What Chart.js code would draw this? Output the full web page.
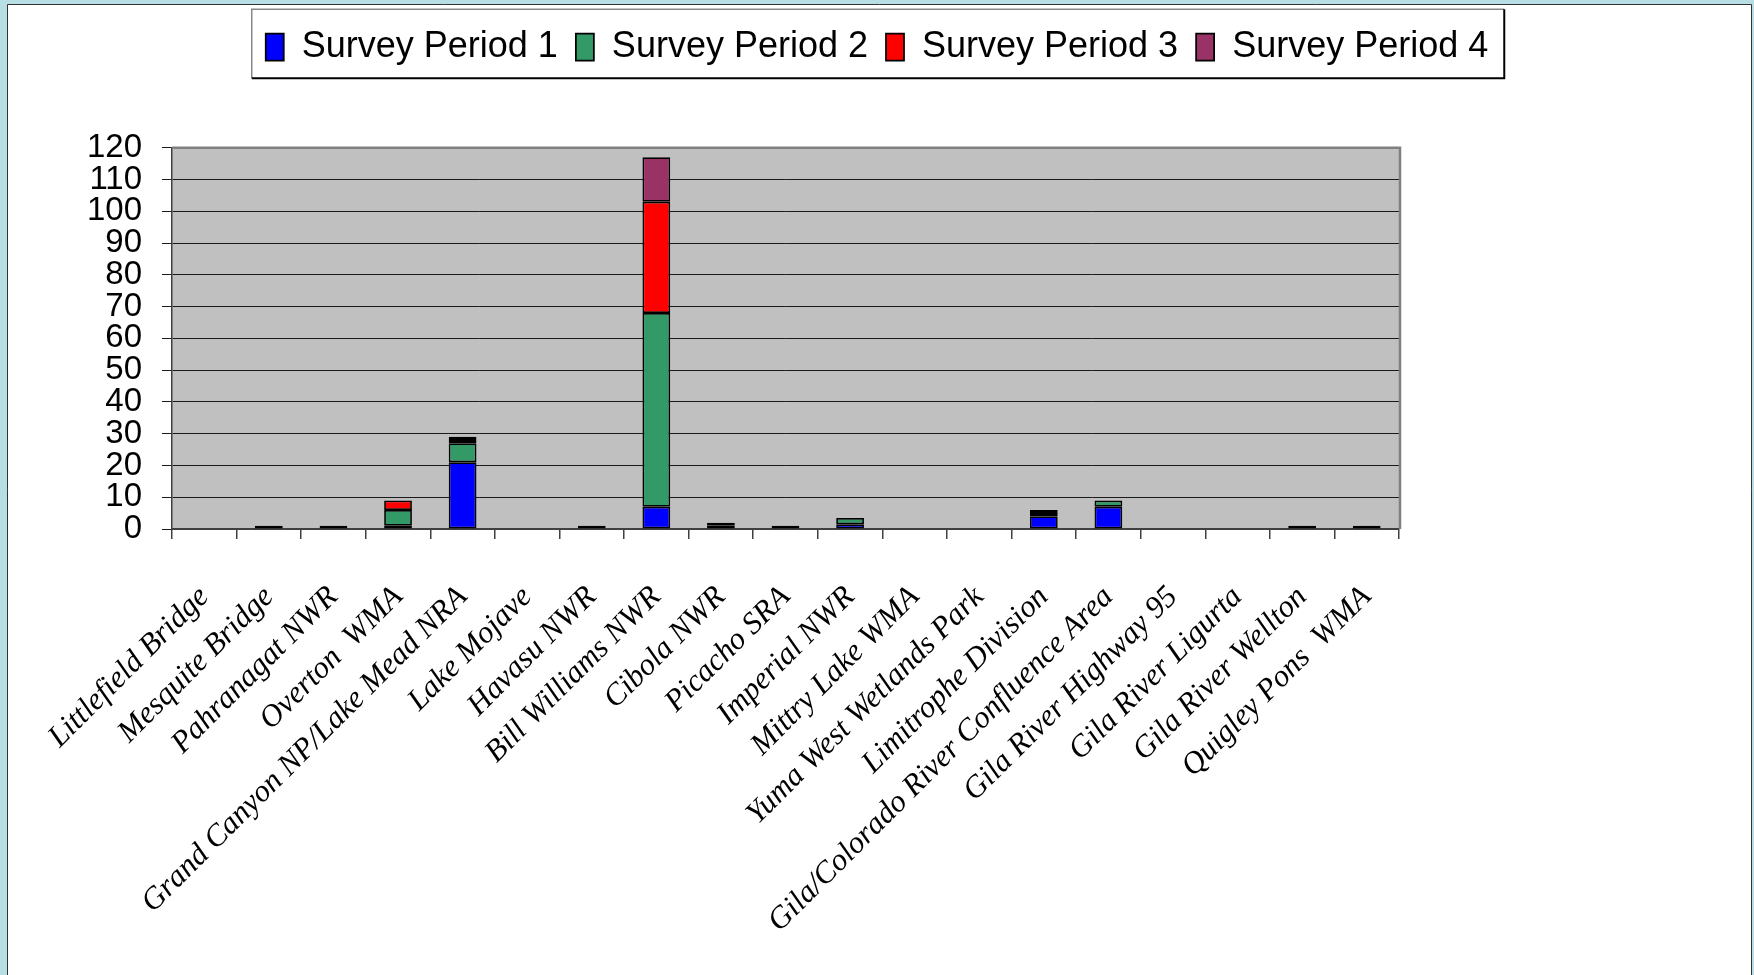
<!DOCTYPE html>
<html><head><meta charset="utf-8">
<script src="https://cdn.jsdelivr.net/npm/chart.js@4"></script>
<style>html,body{margin:0;padding:0;background:#fff;}canvas{display:block;}</style>
</head><body>
<canvas id="c" width="1754" height="975"></canvas>
<script>
const categories = ['Littlefield Bridge','Mesquite Bridge','Pahranagat NWR','Overton  WMA','Grand Canyon NP/Lake Mead NRA','Lake Mojave','Havasu NWR','Bill Williams NWR','Cibola NWR','Picacho SRA','Imperial NWR','Mittry Lake WMA','Yuma West Wetlands Park','Limitrophe Division','Gila/Colorado River Confluence Area','Gila River Highway 95','Gila River Ligurta','Gila River Wellton','Quigley Pons  WMA'];
const seriesNames = ['Survey Period 1','Survey Period 2','Survey Period 3','Survey Period 4'];
const period1 = [0,1,1,1,21,0,1,7,1,1,1.5,0,0,4,7,0,0,1,1];
const period2 = [0,0,0,5,6,0,0,61,1,0,2,0,0,1,2,0,0,0,0];
const period3 = [0,0,0,3,1,0,0,35,0,0,0,0,0,1,0,0,0,0,0];
const period4 = [0,0,0,0,1,0,0,14,0,0,0,0,0,0,0,0,0,0,0];
const seriesColors = ['#0000FF','#339966','#FF0000','#993366'];
const yMin = 0, yMax = 120, yStep = 10;

const decor = {
  id: 'decor',
  beforeDraw(chart) {
    const ctx = chart.ctx, W = chart.width, H = chart.height;
    ctx.save();
    ctx.fillStyle = '#B7DEE3';
    ctx.fillRect(0, 0, W, H);
    ctx.fillStyle = '#FFFFFF';
    ctx.fillRect(8, 5, 1743, H - 5);
    ctx.strokeStyle = '#333';
    ctx.lineWidth = 1;
    ctx.beginPath();
    ctx.moveTo(7.5, H); ctx.lineTo(7.5, 4.5); ctx.lineTo(1751.5, 4.5); ctx.lineTo(1751.5, H);
    ctx.stroke();
    const a = chart.chartArea;
    ctx.fillStyle = '#C0C0C0';
    ctx.fillRect(a.left, a.top, a.right - a.left, a.bottom - a.top);
    ctx.restore();
  },
  afterDraw(chart) {
    const ctx = chart.ctx, a = chart.chartArea;
    ctx.save();
    ctx.strokeStyle = '#808080';
    ctx.lineWidth = 2.5;
    ctx.beginPath();
    ctx.moveTo(a.left, a.top); ctx.lineTo(a.right + 1, a.top); ctx.lineTo(a.right + 1, a.bottom);
    ctx.stroke();
    const hb = chart.legend && chart.legend.legendHitBoxes;
    if (hb && hb.length) {
      const l = hb[0].left - 14;
      const r = hb[hb.length - 1].left + hb[hb.length - 1].width + 16;
      const t = hb[0].top - 19.7;
      const b = hb[0].top + hb[0].height + 13.3;
      ctx.lineWidth = 1.5;
      ctx.strokeStyle = '#888';
      ctx.beginPath(); ctx.moveTo(l, b); ctx.lineTo(l, t); ctx.lineTo(r, t); ctx.stroke();
      ctx.strokeStyle = '#000';
      ctx.lineWidth = 2;
      ctx.beginPath(); ctx.moveTo(r, t); ctx.lineTo(r, b); ctx.lineTo(l, b); ctx.stroke();
    }
    ctx.restore();
  }
};

const allSeries = [period1, period2, period3, period4];
const datasets = allSeries.map((d, i) => ({
  label: seriesNames[i],
  data: d,
  backgroundColor: seriesColors[i],
  borderColor: '#000',
  borderWidth: 1.75,
  borderSkipped: false,
  barPercentage: 0.43,
  categoryPercentage: 1.0
}));

new Chart(document.getElementById('c'), {
  type: 'bar',
  data: { labels: categories, datasets },
  plugins: [decor],
  options: {
    responsive: false,
    animation: false,
    devicePixelRatio: 1,
    layout: { padding: { top: 11, left: 0, right: 0, bottom: 0 } },
    plugins: {
      legend: {
        position: 'top',
        labels: {
          color: '#000',
          font: { family: "'Liberation Sans', Arial, sans-serif", size: 36 },
          boxWidth: 18,
          boxHeight: 27,
          padding: 18
        }
      },
      title: {
        display: true, text: '', position: 'top', weight: 500,
        font: { size: 12, lineHeight: 1.2 },
        padding: { top: 0, bottom: 58.3 }
      },
      tooltip: { enabled: false }
    },
    scales: {
      x: {
        stacked: true,
        grid: { display: true, drawOnChartArea: false, drawTicks: true, tickLength: 10, color: '#404040', lineWidth: 1.5, offset: true },
        border: { display: true, color: '#404040', width: 2 },
        ticks: {
          autoSkip: false, maxRotation: 45, minRotation: 45, padding: 40, color: '#000',
          font: { family: "'Liberation Serif', 'Times New Roman', serif", style: 'italic', size: 31, lineHeight: 1.2 }
        },
        afterFit(s) { s.height = 446; }
      },
      y: {
        stacked: true,
        min: yMin, max: yMax,
        grid: { color: '#1a1a1a', lineWidth: 1, drawTicks: true, tickLength: 10 },
        border: { display: true, color: '#404040', width: 1.5 },
        ticks: {
          stepSize: yStep, autoSkip: false, padding: 20, color: '#000',
          font: { family: "'Liberation Sans', Arial, sans-serif", size: 33, lineHeight: 1 }
        },
        afterFit(s) { s.width = 172; }
      },
      y2: {
        position: 'right', display: true,
        grid: { display: false, drawOnChartArea: false },
        border: { display: false },
        ticks: { display: false },
        afterFit(s) { s.width = 355; }
      }
    }
  }
});
</script>
</body></html>
